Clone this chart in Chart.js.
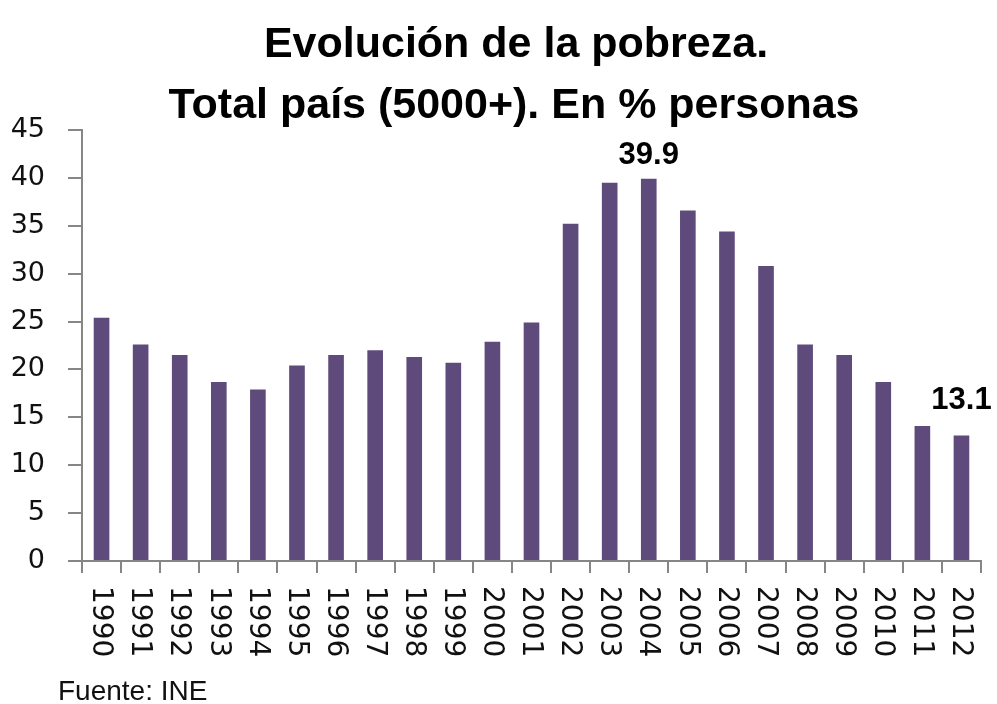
<!DOCTYPE html>
<html>
<head>
<meta charset="utf-8">
<script src="https://cdn.jsdelivr.net/npm/chart.js@4.4.1/dist/chart.umd.min.js"></script>
<style>
  body { margin: 0; background: #fff; }
  #wrap { width: 997px; height: 704px; }
</style>
</head>
<body>
<div id="wrap"><canvas id="pobrezaChart" width="997" height="704"></canvas></div>
<script>
// Datos
const years = ['1990', '1991', '1992', '1993', '1994', '1995', '1996', '1997', '1998', '1999', '2000',
    '2001', '2002', '2003', '2004', '2005', '2006', '2007', '2008', '2009', '2010', '2011', '2012'];
const pobreza = [25.4, 22.6, 21.5, 18.7, 17.9, 20.4, 21.5, 22.0, 21.3, 20.7, 22.9,
    24.9, 35.2, 39.5, 39.9, 36.6, 34.4, 30.8, 22.6, 21.5, 18.7, 14.1, 13.1];
const labeledYears = ['2004', '2012'];
const titleLines = ['Evolución de la pobreza.', 'Total país (5000+). En % personas'];
const sourceText = 'Fuente: INE';

const axisGray = '#868686';
const barColor = '#5e4a7b';

// Texto del título, etiquetas del eje x (giradas) y valores destacados
const extrasPlugin = {
    id: 'extras',
    afterDraw(chart) {
        const ctx = chart.ctx;
        const xScale = chart.scales.x;
        const area = chart.chartArea;
        ctx.save();
        ctx.fillStyle = '#000';

        // título
        ctx.font = 'bold 43px "Liberation Sans"';
        ctx.textAlign = 'center';
        ctx.textBaseline = 'alphabetic';
        ctx.fillText(titleLines[0], 516, 57);
        ctx.fillText(titleLines[1], 514, 118);

        // años, girados 90° en sentido horario
        ctx.font = '28px "DejaVu Sans"';
        ctx.fillStyle = '#111';
        ctx.textAlign = 'left';
        ctx.textBaseline = 'middle';
        years.forEach((year, i) => {
            const x = xScale.getPixelForTick(i);
            ctx.save();
            ctx.translate(x - 1, area.bottom + 25);
            ctx.rotate(Math.PI / 2);
            ctx.fillText(year, 0, 0);
            ctx.restore();
        });

        // valores destacados
        const meta = chart.getDatasetMeta(0);
        ctx.font = 'bold 31px "Liberation Sans"';
        ctx.fillStyle = '#000';
        ctx.textAlign = 'center';
        labeledYears.forEach(year => {
            const i = years.indexOf(year);
            const bar = meta.data[i];
            const gap = i === years.length - 1 ? 35 : 23;
            ctx.fillText(pobreza[i].toFixed(1), bar.x, bar.y - gap);
        });

        // fuente
        ctx.font = '28px "Liberation Sans"';
        ctx.textAlign = 'left';
        ctx.textBaseline = 'alphabetic';
        ctx.fillStyle = '#111';
        ctx.fillText(sourceText, 58, 700);
        ctx.restore();
    }
};

const ctx = document.getElementById('pobrezaChart').getContext('2d');
const chart = new Chart(ctx, {
    type: 'bar',
    data: {
        labels: years,
        datasets: [{
            label: '% personas',
            data: pobreza,
            backgroundColor: barColor,
            borderWidth: 0,
            barPercentage: 0.4,
            categoryPercentage: 1.0
        }]
    },
    options: {
        responsive: false,
        animation: false,
        devicePixelRatio: 1,
        layout: {
            padding: { top: 130, left: 12, right: 16, bottom: 131 }
        },
        plugins: {
            legend: { display: false },
            tooltip: { enabled: false },
            title: { display: false }
        },
        scales: {
            x: {
                grid: {
                    display: true,
                    drawOnChartArea: false,
                    drawTicks: true,
                    tickLength: 12,
                    color: axisGray,
                    lineWidth: 2,
                    offset: true
                },
                border: { color: axisGray, width: 2 },
                ticks: { display: false }
            },
            y: {
                min: 0,
                max: 45,
                afterFit(scale) {
                    scale.width = 70;
                },
                ticks: {
                    stepSize: 5,
                    padding: 23,
                    color: '#111',
                    font: { family: 'DejaVu Sans', size: 27 }
                },
                grid: {
                    drawOnChartArea: false,
                    drawTicks: true,
                    tickLength: 14,
                    color: axisGray,
                    lineWidth: 2
                },
                border: { color: axisGray, width: 2 }
            }
        }
    },
    plugins: [extrasPlugin]
});
</script>
</body>
</html>
